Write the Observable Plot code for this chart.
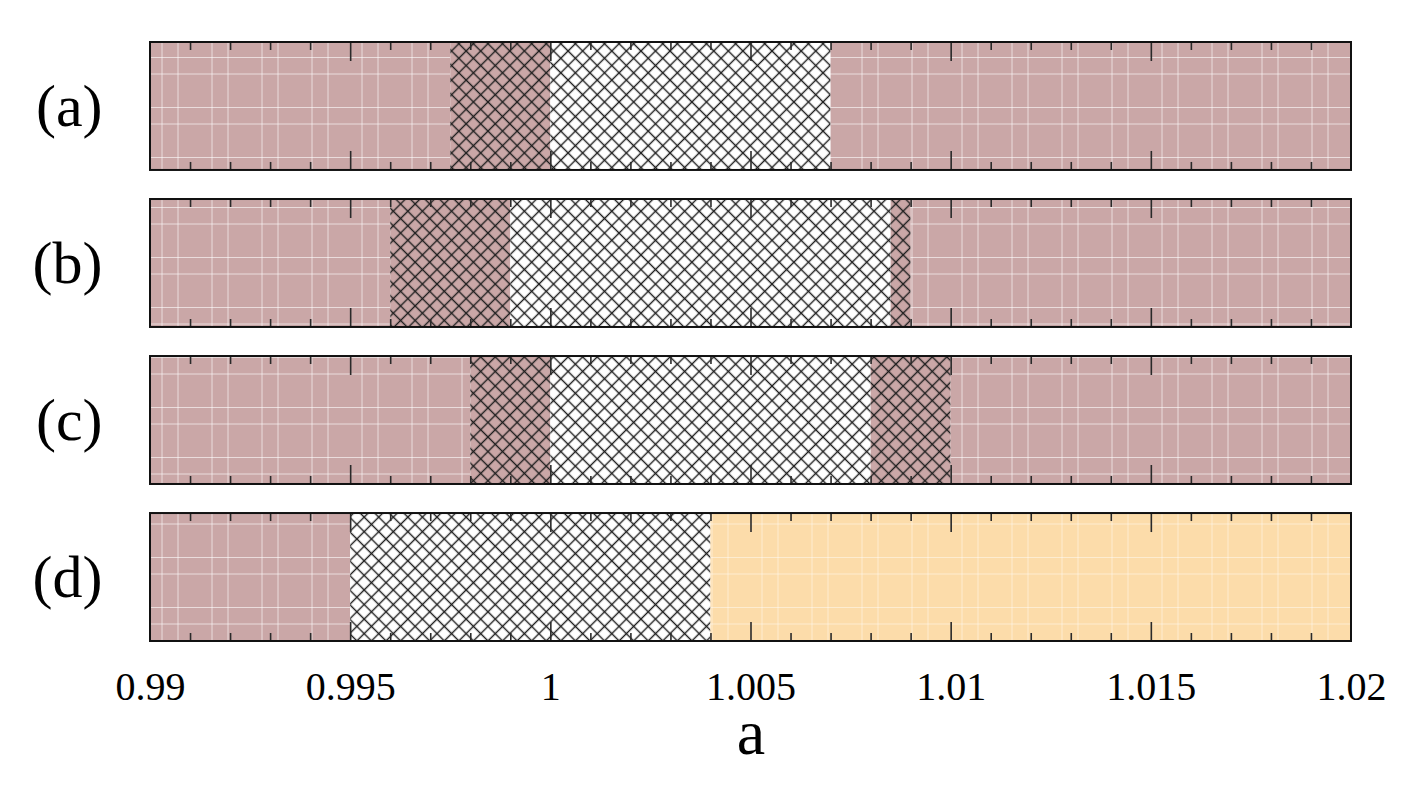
<!DOCTYPE html>
<html>
<head>
<meta charset="utf-8">
<script src="https://cdn.jsdelivr.net/npm/d3@7"></script>
<script src="https://cdn.jsdelivr.net/npm/@observablehq/plot@0.6"></script>
<style>
  html, body { margin: 0; padding: 0; background: #fff; }
  #chart svg text { font-family: "Liberation Serif", "Times New Roman", serif !important; }
</style>
</head>
<body>
<div id="chart"></div>
<script>
// ---- data ----
const panels = ["(a)", "(b)", "(c)", "(d)"];
const regionPanel = ["(a)", "(a)", "(a)", "(a)",
                     "(b)", "(b)", "(b)", "(b)", "(b)",
                     "(c)", "(c)", "(c)", "(c)", "(c)",
                     "(d)", "(d)", "(d)"];
const regionStart = [0.99, 0.9975, 1.0, 1.007,
                     0.99, 0.996, 0.999, 1.0085, 1.009,
                     0.99, 0.998, 1.0, 1.008, 1.01,
                     0.99, 0.995, 1.004];
const regionEnd   = [0.9975, 1.0, 1.007, 1.02,
                     0.996, 0.999, 1.0085, 1.009, 1.02,
                     0.998, 1.0, 1.008, 1.01, 1.02,
                     0.995, 1.004, 1.02];
const regionKind  = ["brown", "brownHatch", "hatch", "brown",
                     "brown", "brownHatch", "hatch", "brownHatch", "brown",
                     "brown", "brownHatch", "hatch", "brownHatch", "brown",
                     "brown", "hatch", "orange"];
const xDomain = [0.99, 1.02];
const majorTicks = [0.99, 0.995, 1.0, 1.005, 1.01, 1.015, 1.02];
const minorTicks = [0.991, 0.992, 0.993, 0.994, 0.996, 0.997, 0.998, 0.999,
                    1.001, 1.002, 1.003, 1.004, 1.006, 1.007, 1.008, 1.009,
                    1.011, 1.012, 1.013, 1.014, 1.016, 1.017, 1.018, 1.019];
const innerMajor = [0.995, 1.0, 1.005, 1.01, 1.015];
const xLabel = "a";

// ---- build ----
const regions = regionPanel.map((p, i) => ({
  panel: p, x1: regionStart[i], x2: regionEnd[i], kind: regionKind[i]
}));
const fillFor = {
  brown: "url(#pBrown)",
  brownHatch: "url(#pBrownHatch)",
  hatch: "url(#pHatch)",
  orange: "url(#pOrange)"
};
const minorData = d3.cross(panels, minorTicks).map(([p, x]) => ({panel: p, x}));
const majorData = d3.cross(panels, innerMajor).map(([p, x]) => ({panel: p, x}));
const outlines = panels.map(p => ({panel: p, x1: xDomain[0], x2: xDomain[1]}));

const W = 1425, H = 788;
const mTop = 42, mBottom = 147;
const pInner = 0.185;
const step = (H - mTop - mBottom) / (panels.length - pInner);
const bw = step * (1 - pInner);
const minorLen = 8, majorLen = 19;
const font = "Liberation Serif";
const tickStroke = "#2a2a2a";

const svg = Plot.plot({
  width: W,
  height: H,
  marginLeft: 150,
  marginRight: 74,
  marginTop: mTop,
  marginBottom: mBottom,
  style: {fontFamily: font, color: "#000", background: "#fff"},
  x: {domain: xDomain},
  y: {type: "band", domain: panels, paddingInner: pInner, paddingOuter: 0, round: false},
  color: {type: "identity"},
  marks: [
    Plot.barX(regions, {x1: "x1", x2: "x2", y: "panel", fill: d => fillFor[d.kind]}),
    Plot.tickX(minorData, {x: "x", y: "panel", insetBottom: bw - minorLen, stroke: tickStroke, strokeWidth: 1.6}),
    Plot.tickX(minorData, {x: "x", y: "panel", insetTop: bw - minorLen, stroke: tickStroke, strokeWidth: 1.6}),
    Plot.tickX(majorData, {x: "x", y: "panel", insetBottom: bw - majorLen, stroke: tickStroke, strokeWidth: 1.6}),
    Plot.tickX(majorData, {x: "x", y: "panel", insetTop: bw - majorLen, stroke: tickStroke, strokeWidth: 1.6}),
    Plot.barX(outlines, {x1: "x1", x2: "x2", y: "panel", fill: "none", stroke: "#111", strokeWidth: 2}),
    Plot.axisX({ticks: majorTicks, tickSize: 0, tickPadding: 30, fontSize: 40, fontFamily: font,
                tickFormat: d => String(+d.toFixed(3)), label: null}),
    Plot.axisY({tickSize: 0, tickPadding: 48, fontSize: 60, fontFamily: font, label: null}),
    Plot.text([xLabel], {frameAnchor: "bottom", dy: 112, lineAnchor: "bottom", fontSize: 64,
                         fontFamily: font, text: d => d})
  ]
});

// patterns (style definitions)
const defs = d3.select(svg).insert("defs", ":first-child");
function gridPattern(id, bg, lineColor, lineOpacity) {
  const p = defs.append("pattern").attr("id", id)
    .attr("patternUnits", "userSpaceOnUse")
    .attr("x", 0).attr("y", 0).attr("width", 50).attr("height", 50);
  p.append("rect").attr("width", 50).attr("height", 50).attr("fill", bg);
  [12, 28].forEach(v => p.append("line").attr("x1", v).attr("x2", v).attr("y1", 0).attr("y2", 50)
    .attr("stroke", lineColor).attr("stroke-opacity", lineOpacity).attr("stroke-width", 1));
  [7.5, 24].forEach(v => p.append("line").attr("y1", v).attr("y2", v).attr("x1", 0).attr("x2", 50)
    .attr("stroke", lineColor).attr("stroke-opacity", lineOpacity).attr("stroke-width", 1));
}
function hatchPattern(id, bg) {
  const d = 10.3;
  const p = defs.append("pattern").attr("id", id)
    .attr("patternUnits", "userSpaceOnUse")
    .attr("patternTransform", "rotate(45)")
    .attr("x", 0).attr("y", 0).attr("width", d).attr("height", d);
  p.append("rect").attr("x", -1).attr("y", -1).attr("width", d + 2).attr("height", d + 2).attr("fill", bg);
  p.append("line").attr("x1", d / 2).attr("x2", d / 2).attr("y1", -1).attr("y2", d + 1)
    .attr("stroke", "#1e1e1e").attr("stroke-width", 1.4);
  p.append("line").attr("y1", d / 2).attr("y2", d / 2).attr("x1", -1).attr("x2", d + 1)
    .attr("stroke", "#1e1e1e").attr("stroke-width", 1.4);
}
gridPattern("pBrown", "#caa7a7", "#ffffff", 0.6);
gridPattern("pOrange", "#fcdcaa", "#ffffff", 0.45);
hatchPattern("pBrownHatch", "#caa7a7");
hatchPattern("pHatch", "#ffffff");

document.getElementById("chart").appendChild(svg);
</script>
</body>
</html>
